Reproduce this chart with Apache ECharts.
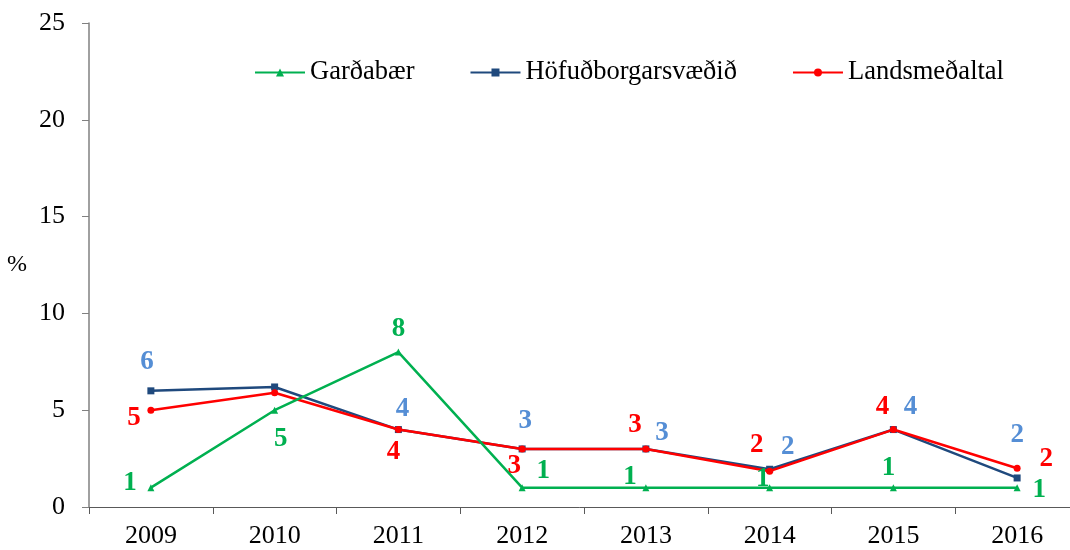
<!DOCTYPE html>
<html><head><meta charset="utf-8">
<script src="https://cdn.jsdelivr.net/npm/echarts@6/dist/echarts.min.js"></script>
<style>html,body{margin:0;padding:0;background:#fff}#c{width:1070px;height:550px}</style>
</head><body><div id="c"></div>
<script>
var categories = ['2009','2010','2011','2012','2013','2014','2015','2016'];
var yTicks = [0,5,10,15,20,25];
var gardabaer = [1, 5, 8, 1, 1, 1, 1, 1];
var hofudborg = [6.0, 6.2, 4.0, 3.0, 3.0, 1.95, 4.0, 1.5];
var landsmedal = [5.0, 5.9, 4.0, 3.0, 3.0, 1.85, 4.0, 2.0];
var seriesNames = ['Garðabær', 'Höfuðborgarsvæðið', 'Landsmeðaltal'];
// which points carry a data label
var showG = [1,1,1,1,1,1,1,1];
var showH = [1,0,1,1,1,1,1,1];
var showL = [1,0,1,1,1,1,1,1];
// label offsets (styling)
var offG = [[-21,-5],[6,29],[0,-23],[21,-17],[-16,-11],[-7,-9],[-5,-20],[22,2]];
var offH = [[-4,-29],[0,0],[4,-21],[3,-28],[16,-16],[18,-22],[17,-23],[0,-43]];
var offL = [[-17,8],[0,0],[-5,22],[-8,17],[-11,-24],[-13,-26],[-11,-23],[29,-9]];

var FONT = 'Liberation Serif, Times New Roman, serif';
function build(vals, show, off, color) {
  return vals.map(function (v, i) {
    return {
      value: v,
      label: {
        show: !!show[i],
        position: 'inside',
        offset: off[i],
        formatter: String(Math.round(v)),
        color: color,
        fontFamily: FONT,
        fontWeight: 'bold',
        fontSize: 27
      }
    };
  });
}
var chart = echarts.init(document.getElementById('c'));
chart.setOption({
  animation: false,
  backgroundColor: '#fff',
  grid: { left: 89, top: 23, width: 990, height: 484, containLabel: false, outerBoundsMode: 'none' },
  legend: {
    top: 54, left: 249,
    itemWidth: 50, itemHeight: 10, itemGap: 55,
    textStyle: { fontFamily: FONT, fontSize: 26.5, color: '#000' },
    data: seriesNames
  },
  xAxis: {
    type: 'category', data: categories, boundaryGap: true,
    axisLine: { lineStyle: { color: '#595959', width: 1 } },
    axisTick: { show: true, length: 7, lineStyle: { color: '#595959' } },
    axisLabel: { fontFamily: FONT, fontSize: 26, color: '#000', margin: 16 }
  },
  yAxis: {
    type: 'value', min: 0, max: 25, interval: 5,
    name: '%', nameLocation: 'middle', nameRotate: 0, nameGap: 62,
    nameTextStyle: { fontFamily: FONT, fontSize: 24, color: '#000' },
    splitLine: { show: false },
    axisLine: { show: true, lineStyle: { color: '#808080', width: 1.5 } },
    axisTick: { show: true, length: 7, lineStyle: { color: '#808080' } },
    axisLabel: { fontFamily: FONT, fontSize: 26, color: '#000', margin: 24,
      formatter: function (v) { return yTicks.indexOf(v) >= 0 ? String(v) : ''; } }
  },
  series: [
    { name: seriesNames[0], type: 'line', z: 4, color: '#00B050',
      data: build(gardabaer, showG, offG, '#00B050'),
      symbol: 'triangle', symbolSize: 7, lineStyle: { width: 2.5, color: '#00B050' },
      itemStyle: { color: '#00B050' } },
    { name: seriesNames[1], type: 'line', z: 2, color: '#1F497D',
      data: build(hofudborg, showH, offH, '#558ED5'),
      symbol: 'rect', symbolSize: 7, lineStyle: { width: 2.5, color: '#1F497D' },
      itemStyle: { color: '#1F497D' } },
    { name: seriesNames[2], type: 'line', z: 3, color: '#FF0000',
      data: build(landsmedal, showL, offL, '#FF0000'),
      symbol: 'circle', symbolSize: 7, lineStyle: { width: 2.5, color: '#FF0000' },
      itemStyle: { color: '#FF0000' } }
  ]
});
</script></body></html>
